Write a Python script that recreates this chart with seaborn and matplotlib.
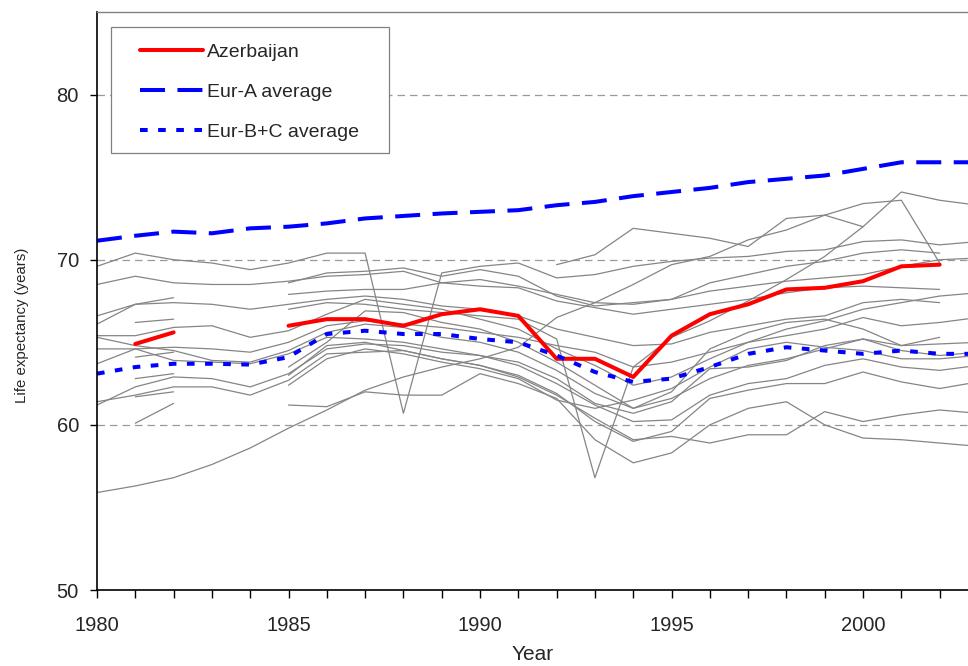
import numpy as np
import pandas as pd
import matplotlib
matplotlib.use("Agg")
import matplotlib.pyplot as plt
from matplotlib.lines import Line2D
from matplotlib.patches import Rectangle
import seaborn as sns

N = np.nan
years = list(range(1980, 2004))

azerbaijan = [N, 64.9, 65.6, N, N, 66.0, 66.4, 66.4, 66.0, 66.7, 67.0, 66.6, 64.0, 64.0,
              62.9, 65.4, 66.7, 67.3, 68.2, 68.3, 68.7, 69.6, 69.7, N]
eur_a = [71.15, 71.45, 71.7, 71.6, 71.9, 72.0, 72.2, 72.5, 72.65, 72.8, 72.9, 73.0, 73.3, 73.5,
         73.85, 74.1, 74.35, 74.7, 74.9, 75.1, 75.5, 75.9, 75.9, 75.9]
eur_bc = [63.1, 63.5, 63.7, 63.7, 63.65, 64.1, 65.5, 65.7, 65.5, 65.5, 65.2, 65.0, 64.2, 63.2,
          62.6, 62.8, 63.5, 64.3, 64.7, 64.5, 64.3, 64.5, 64.3, 64.3]

# other countries (grey lines)
g01 = [69.6, 70.4, 70.0, 69.8, 69.4, 69.8, 70.4, 70.4, 60.7, 69.2, 69.6, 69.8, 68.9, 69.1, 69.6, 69.9, 70.1, 70.2, 70.5, 70.6, 71.1, 71.2, 70.9, 71.1]
g02 = [68.5, 69.0, 68.6, 68.5, 68.5, 68.7, 69.0, 69.1, 69.3, 68.6, 68.8, 68.4, 67.9, 67.4, 67.3, 67.6, 68.1, 68.4, 68.7, 68.9, 69.1, 69.6, 70.0, 70.1]
g03 = [66.6, 67.3, 67.4, 67.3, 67.0, 67.3, 67.6, 67.8, 67.6, 67.2, 67.0, 66.6, 65.8, 65.3, 64.8, 64.9, 65.6, 66.0, 66.4, 66.6, 67.4, 67.6, 67.4, N]
g04 = [66.1, 67.3, 67.7] + [N] * 21
g05 = [65.4, 65.4, 65.9, 66.0, 65.3, 65.7, 66.7, 67.6, 67.3, 67.0, 66.4, 65.8, 64.6, 63.6, 62.4, 62.9, 64.0, 65.0, 65.8, 66.3, 67.0, 67.4, 67.8, 68.0]
g06 = [65.3, 64.8, 64.5, 63.9, 63.8, 64.5, 65.6, 66.1, 65.9, 65.3, 65.0, 64.4, 63.3, 61.9, 61.0, 61.6, 62.8, 63.6, 64.0, 64.6, 65.2, 64.8, 64.9, 65.0]
g07 = [64.6, 64.6, 64.7, 64.6, 64.4, 65.0, 66.0, 66.3, 66.1, 65.9, 65.6, 65.3, 64.8, 64.4, 63.5, 63.8, 64.4, 65.0, 65.4, 65.8, 66.5, 66.0, 66.2, 66.5]
g08 = [63.7, 64.6, 63.9, 63.8, 63.7, 64.3, 65.3, 65.2, 65.0, 64.6, 64.2, 63.8, 62.8, 61.3, 60.7, 61.4, 63.4, 63.5, 63.9, 64.8, 65.2, 64.5, 64.2, 64.4]
g09 = [61.2, 62.3, 62.9, 62.8, 62.3, 63.1, 64.6, 64.9, 64.8, 64.4, 64.2, 63.6, 62.5, 61.2, 60.2, 60.3, 61.8, 62.5, 62.8, 63.6, 64.0, 63.5, 63.3, 63.6]
g10 = [61.4, 61.8, 62.3, 62.3, 61.8, 62.7, 64.3, 64.4, 64.5, 64.0, 63.6, 63.0, 61.9, 60.2, 59.0, 59.6, 61.6, 62.1, 62.5, 62.5, 63.2, 62.6, 62.2, 62.6]
g11 = [N, 66.2, 66.4] + [N] * 21
g12 = [N, 64.1, 64.4] + [N] * 21
g13 = [N, 61.7, 62.0] + [N] * 21
g14 = [N, 60.1, 61.3] + [N] * 21
g15 = [N, 62.8, 63.1] + [N] * 21
g16 = [N] * 5 + [67.9, 68.1, 68.2, 68.2, 68.6, 68.4, 68.3, 67.5, 67.1, 66.7, 67.0, 67.3, 67.6, 68.0, 68.3, 68.4, 68.3, 68.2, N]
g17 = [N] * 5 + [61.2, 61.1, 62.0, 61.8, 61.8, 63.1, 62.5, 61.6, 59.1, 57.7, 58.3, 60.0, 61.0, 61.4, 60.0, 59.2, 59.1, 58.9, 58.7]
g18 = [N] * 5 + [68.6, 69.2, 69.3, 69.5, 69.0, 69.4, 69.0, 67.8, 67.2, 67.4, 67.6, 68.6, 69.1, 69.6, 69.9, 70.4, 70.6, 70.4, N]
g19 = [55.9, 56.3, 56.8, 57.6, 58.6, 59.8, 60.9, 62.1, 62.9, 63.5, 64.0, 64.7, 66.5, 67.4, 68.5, 69.7, 70.2, 71.2, 71.8, 72.7, 73.4, 73.6, 69.8, N]
g20 = [N] * 12 + [69.7, 70.3, 71.9, 71.6, 71.3, 70.8, 72.5, 72.7, 72.0, N, N, N]
g21 = [N] * 5 + [67.0, 67.4, 67.3, 67.0, 66.8, 66.6, 66.4, 65.2, 56.8, 63.5, 65.3, 66.3, 67.5, 68.8, 70.2, 72.0, 74.1, 73.6, 73.3]
g22 = [N] * 5 + [63.0, 64.8, 65.0, 64.5, 64.0, 63.6, 62.9, 61.8, 60.4, 59.1, 59.3, 58.9, 59.4, 59.4, 60.8, 60.2, 60.6, 60.9, 60.7]
g23 = [N] * 5 + [62.4, 64.0, 64.6, 64.3, 63.8, 63.4, 62.8, 61.5, 61.0, 61.5, 62.2, 63.5, 64.6, 65.0, 64.7, 64.5, 64.0, 64.0, 64.2]
g24 = [N] * 5 + [63.5, 65.0, 66.9, 66.8, 66.2, 65.8, 65.0, 63.8, 62.4, 61.0, 62.0, 64.6, 65.6, 66.2, 66.4, 65.8, 64.8, 65.3, N]
others = [g01, g02, g03, g04, g05, g06, g07, g08, g09, g10, g11, g12, g13, g14, g15,
          g16, g17, g18, g19, g20, g21, g22, g23, g24]

x_ticks = [1980, 1985, 1990, 1995, 2000]
y_ticks = [50, 60, 70, 80]
legend_labels = ["Azerbaijan", "Eur-A average", "Eur-B+C average"]


def segments(values, name):
    rows = []
    seg = 0
    prev_nan = True
    for yr, v in zip(years, values):
        if np.isnan(v):
            prev_nan = True
            continue
        if prev_nan:
            seg += 1
        prev_nan = False
        rows.append({"year": yr, "value": v, "unit": f"{name}_{seg}"})
    return pd.DataFrame(rows)


sns.set_style("white")
plt.rcParams["font.family"] = ["Liberation Sans", "DejaVu Sans"]

W, H = 968, 666
fig = plt.figure(figsize=(W / 100, H / 100), dpi=100)
AX_L, AX_R, AX_T, AX_B = 97, 968, 12, 590
ax = fig.add_axes([AX_L / W, 1 - AX_B / H, (AX_R - AX_L) / W, (AX_B - AX_T) / H])


def ax_x(px):
    return (px - AX_L) / (AX_R - AX_L)


def ax_y(py):
    return (AX_B - py) / (AX_B - AX_T)


grey_df = pd.concat([segments(v, f"c{i}") for i, v in enumerate(others)], ignore_index=True)
sns.lineplot(data=grey_df, x="year", y="value", units="unit", estimator=None, sort=False,
             color="#858585", linewidth=0.9, legend=False, ax=ax)

az_df = segments(azerbaijan, "az")
sns.lineplot(data=az_df, x="year", y="value", units="unit", estimator=None, sort=False,
             color="#FF0000", linewidth=2.9, legend=False, ax=ax)
ea_df = pd.DataFrame({"year": years, "value": eur_a})
sns.lineplot(data=ea_df, x="year", y="value", color="#0000FF", linewidth=2.9,
             ax=ax, legend=False).lines[-1].set_dashes([6.2, 3.1])
ebc_df = pd.DataFrame({"year": years, "value": eur_bc})
sns.lineplot(data=ebc_df, x="year", y="value", color="#0000FF", linewidth=2.9,
             ax=ax, legend=False).lines[-1].set_dashes([1.9, 2.6])

# legend box
ax.add_patch(Rectangle((ax_x(111), ax_y(153)), ax_x(389) - ax_x(111), ax_y(27) - ax_y(153),
                       transform=ax.transAxes, facecolor="white", edgecolor="#808080",
                       linewidth=0.9, zorder=4.5))
handles = [
    Line2D([], [], color="#FF0000", linewidth=2.9),
    Line2D([], [], color="#0000FF", linewidth=2.9, dashes=[6.2, 3.1]),
    Line2D([], [], color="#0000FF", linewidth=2.9, dashes=[1.9, 2.6]),
]
leg = ax.legend(handles, legend_labels, loc="upper left",
                bbox_to_anchor=(ax_x(140), ax_y(43)), borderaxespad=0, borderpad=0,
                fontsize=14, frameon=False, handlelength=3.25, handletextpad=0.2,
                labelspacing=1.15)
leg.set_zorder(6)

ax.set_xlim(1980, 2002.74)
ax.set_ylim(50, 85)
ax.set_xticks(x_ticks)
ax.set_xticks(years[:23], minor=True)
ax.set_yticks(y_ticks)
for yv in y_ticks[1:]:
    ax.axhline(yv, color="#999999", linewidth=0.9, dashes=(6, 4), zorder=0)

ax.tick_params(axis="x", which="both", direction="out", length=6, width=1, color="black",
               labelsize=14.5, pad=13, bottom=True)
ax.tick_params(axis="y", which="both", direction="out", length=5, width=1, color="black",
               labelsize=14.5, pad=8, left=True)

ax.set_xlabel("Year", fontsize=15)
ax.xaxis.set_label_coords(0.5, ax_y(645), transform=ax.transAxes)
ax.xaxis.label.set_va("top")
ax.set_ylabel("Life expectancy (years)", fontsize=10.8)
ax.yaxis.set_label_coords(ax_x(29), ax_y(325), transform=ax.transAxes)

for side in ["left", "bottom"]:
    ax.spines[side].set_color("black")
    ax.spines[side].set_linewidth(1.2)
ax.spines["top"].set_color("#808080")
ax.spines["top"].set_linewidth(1.0)
ax.spines["right"].set_visible(False)

fig.savefig("out.png", dpi=100)
